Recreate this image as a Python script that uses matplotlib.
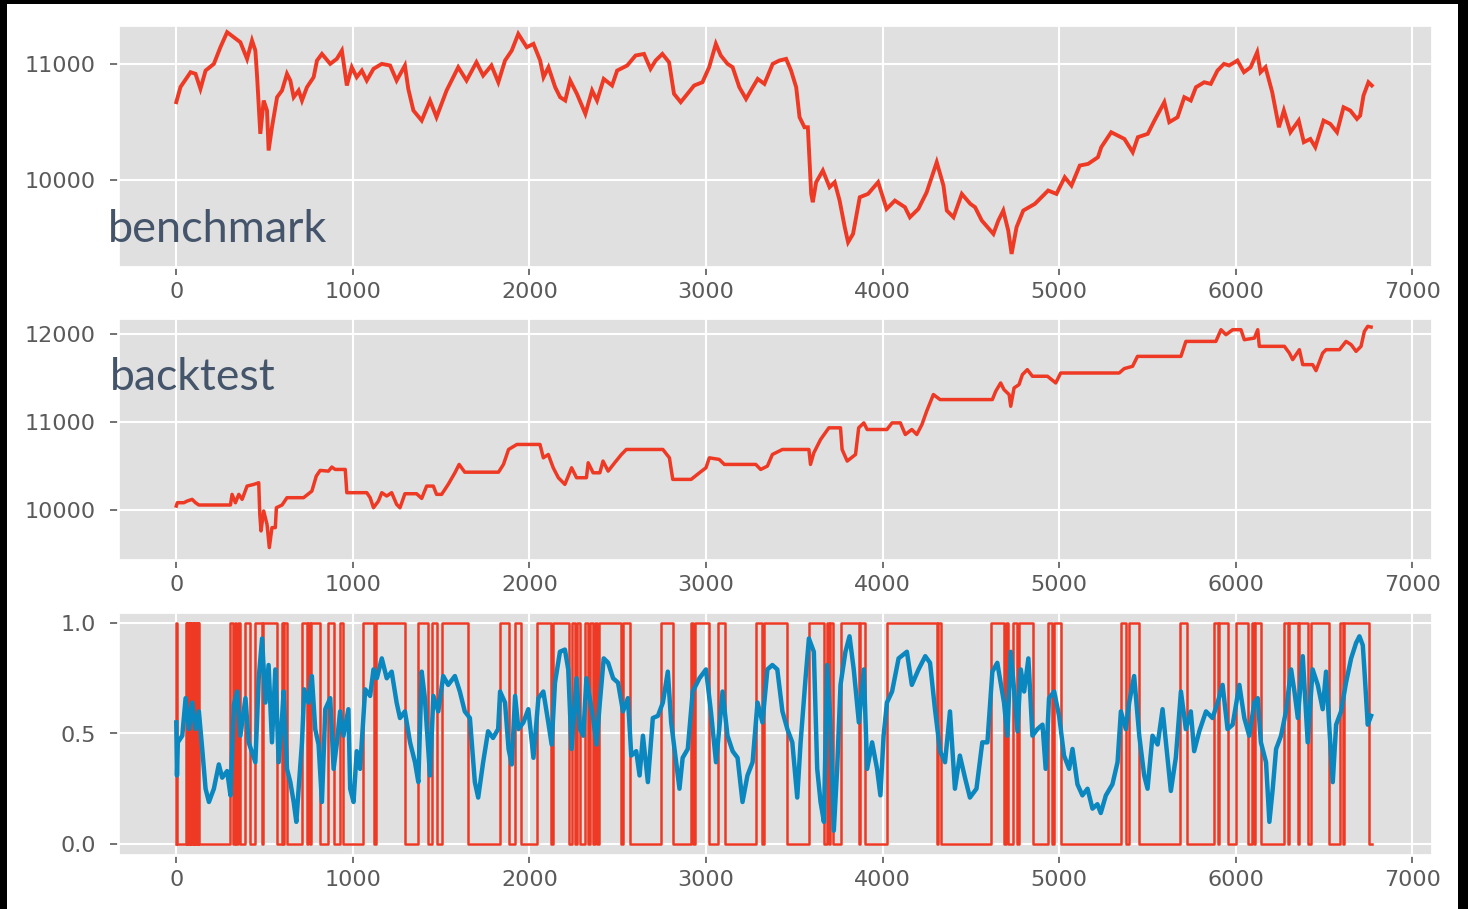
"""
Three stacked panels: benchmark equity, backtest equity, and the
0/1 position signal with the model probability on top of it.
"""

import matplotlib
matplotlib.use("Agg")
import matplotlib.pyplot as plt
from matplotlib.patches import Rectangle

# benchmark equity curve
bench_x = [0, 24, 81, 109, 137, 166, 213, 250, 288, 326, 363, 401, 429, 448, 458, 476, 495, 514, 523, 542,
           571, 599, 627, 646, 665, 693, 712, 740, 778, 797, 825, 872, 909, 938, 966, 994, 1022, 1051, 1079,
           1117, 1164, 1211, 1248, 1295, 1314, 1343, 1390, 1437, 1474, 1531, 1597, 1644, 1700, 1738, 1785,
           1824, 1862, 1900, 1937, 1985, 2023, 2061, 2080, 2108, 2146, 2174, 2203, 2231, 2269, 2317, 2355,
           2383, 2421, 2468, 2497, 2554, 2601, 2649, 2686, 2715, 2753, 2791, 2819, 2857, 2895, 2933, 2980,
           3018, 3056, 3084, 3122, 3151, 3189, 3227, 3265, 3293, 3331, 3378, 3416, 3454, 3482, 3511, 3530,
           3558, 3577, 3596, 3605, 3624, 3662, 3700, 3729, 3757, 3786, 3805, 3833, 3871, 3918, 3975, 4023,
           4070, 4127, 4155, 4203, 4250, 4307, 4345, 4364, 4402, 4449, 4497, 4524, 4562, 4628, 4656, 4684,
           4712, 4731, 4759, 4797, 4863, 4938, 4985, 5032, 5070, 5117, 5164, 5220, 5239, 5295, 5370, 5417,
           5446, 5502, 5540, 5596, 5624, 5671, 5709, 5746, 5775, 5822, 5859, 5897, 5934, 5963, 6010, 6047,
           6085, 6122, 6141, 6169, 6207, 6245, 6273, 6310, 6357, 6386, 6423, 6451, 6498, 6536, 6574, 6611,
           6649, 6687, 6705, 6724, 6752, 6771]
bench_y = [10669, 10800, 10928, 10914, 10784, 10942, 11000, 11144, 11274, 11230, 11187, 11043, 11202, 11115,
           10885, 10395, 10683, 10597, 10251, 10452, 10712, 10770, 10914, 10856, 10712, 10770, 10683, 10798,
           10885, 11029, 11086, 11000, 11043, 11115, 10813, 10971, 10885, 10942, 10856, 10957, 11000, 10986,
           10856, 10986, 10784, 10597, 10510, 10683, 10539, 10770, 10971, 10856, 11014, 10899, 10986, 10841,
           11029, 11115, 11259, 11144, 11173, 11029, 10885, 10971, 10798, 10712, 10683, 10856, 10741, 10568,
           10770, 10683, 10870, 10813, 10942, 10986, 11072, 11086, 10957, 11029, 11086, 11014, 10741, 10669,
           10741, 10813, 10841, 10971, 11173, 11072, 11000, 10971, 10798, 10697, 10798, 10870, 10827, 11000,
           11029, 11043, 10942, 10798, 10539, 10452, 10452, 9876, 9804, 9977, 10078, 9934, 9977, 9818, 9588,
           9458, 9530, 9847, 9876, 9977, 9746, 9818, 9761, 9674, 9746, 9890, 10150, 9948, 9732, 9674, 9876,
           9790, 9761, 9646, 9530, 9646, 9732, 9559, 9357, 9588, 9732, 9790, 9905, 9876, 10020, 9948, 10121,
           10135, 10193, 10280, 10409, 10351, 10236, 10366, 10395, 10510, 10669, 10496, 10539, 10712, 10683,
           10798, 10841, 10827, 10942, 11000, 10986, 11029, 10928, 10971, 11101, 10928, 10971, 10755, 10452,
           10597, 10409, 10510, 10323, 10351, 10280, 10510, 10481, 10409, 10625, 10597, 10524, 10553, 10726,
           10841, 10813]

# backtest equity curve
bt_x = [0, 6, 43, 62, 90, 109, 128, 307, 316, 335, 354, 373, 401, 439, 467, 473, 480, 495, 514, 527, 542,
        561, 567, 599, 627, 721, 768, 793, 815, 862, 881, 900, 957, 966, 1079, 1098, 1117, 1145, 1164, 1192,
        1220, 1248, 1267, 1295, 1361, 1390, 1418, 1456, 1474, 1503, 1540, 1578, 1602, 1634, 1825, 1853, 1882,
        1929, 2060, 2079, 2107, 2135, 2164, 2201, 2239, 2267, 2323, 2333, 2361, 2399, 2417, 2446, 2483, 2521,
        2549, 2756, 2793, 2812, 2916, 2963, 3000, 3019, 3075, 3104, 3282, 3310, 3348, 3376, 3433, 3583, 3592,
        3611, 3649, 3696, 3762, 3771, 3800, 3847, 3865, 3894, 3913, 4025, 4054, 4101, 4129, 4166, 4194, 4223,
        4250, 4288, 4326, 4622, 4641, 4669, 4688, 4717, 4726, 4745, 4773, 4792, 4820, 4849, 4934, 4981, 5009,
        5340, 5369, 5416, 5444, 5690, 5718, 5888, 5917, 5945, 5983, 6030, 6049, 6106, 6125, 6134, 6276, 6304,
        6323, 6361, 6380, 6436, 6455, 6493, 6512, 6588, 6625, 6654, 6682, 6710, 6729, 6748, 6767]
bt_y = [10045, 10083, 10083, 10102, 10121, 10083, 10057, 10057, 10178, 10083, 10178, 10121, 10272, 10291,
        10310, 9951, 9762, 9989, 9837, 9573, 9800, 9800, 10026, 10057, 10140, 10140, 10215, 10386, 10450,
        10442, 10488, 10461, 10461, 10197, 10197, 10140, 10026, 10102, 10197, 10159, 10197, 10064, 10026,
        10185, 10185, 10132, 10272, 10272, 10178, 10178, 10291, 10423, 10518, 10430, 10430, 10518, 10688,
        10745, 10745, 10593, 10631, 10480, 10367, 10291, 10480, 10367, 10367, 10537, 10423, 10423, 10556,
        10442, 10537, 10631, 10688, 10688, 10593, 10348, 10348, 10423, 10480, 10593, 10575, 10518, 10518,
        10461, 10499, 10631, 10688, 10688, 10518, 10650, 10801, 10934, 10934, 10688, 10556, 10631, 10934,
        10990, 10915, 10915, 10990, 10990, 10858, 10915, 10858, 10971, 11123, 11312, 11255, 11255, 11349,
        11444, 11368, 11312, 11179, 11387, 11425, 11538, 11595, 11520, 11520, 11444, 11557, 11557, 11607,
        11633, 11746, 11746, 11916, 11916, 12049, 11992, 12049, 12049, 11935, 11954, 12049, 11860, 11860,
        11784, 11709, 11822, 11652, 11652, 11584, 11784, 11822, 11822, 11916, 11879, 11803, 11860, 12030,
        12087, 12079]

# position signal: (enter, exit) of every run at 1
pos_runs = [(0, 5), (53, 58), (62, 67), (71, 76), (80, 85), (89, 94), (98, 103), (107, 112), (116, 121),
            (124, 128), (307, 322), (330, 341), (349, 360), (392, 420), (448, 484), (490, 571), (599, 606),
            (611, 627), (712, 738), (745, 755), (762, 815), (862, 891), (928, 947), (1060, 1122), (1130, 1296),
            (1371, 1427), (1446, 1478), (1503, 1653), (1831, 1887), (1919, 1951), (2041, 2120), (2132, 2226),
            (2239, 2258), (2267, 2286), (2314, 2333), (2342, 2361), (2370, 2384), (2395, 2521), (2530, 2572),
            (2746, 2812), (2916, 2929), (2940, 3019), (3066, 3107), (3282, 3320), (3329, 3461), (3583, 3668),
            (3686, 3696), (3705, 3718), (3762, 3866), (3874, 3903), (4025, 4307), (4316, 4329), (4613, 4688),
            (4701, 4713), (4739, 4764), (4773, 4853), (4940, 4962), (4972, 5009), (5350, 5378), (5397, 5454),
            (5684, 5722), (5879, 5898), (5903, 5954), (6002, 6068), (6092, 6106), (6111, 6143), (6276, 6295),
            (6304, 6352), (6361, 6408), (6427, 6527), (6591, 6606), (6615, 6753)]
pos_end = 6775

# predicted probability
prob_x = [0, 4, 9, 34, 53, 72, 90, 109, 128, 147, 166, 185, 213, 241, 260, 288, 307, 326, 345, 363, 392, 410,
          448, 467, 486, 505, 523, 542, 561, 580, 599, 608, 627, 646, 665, 680, 693, 712, 725, 749, 768, 787,
          806, 825, 844, 872, 891, 910, 928, 947, 975, 985, 1004, 1022, 1041, 1070, 1098, 1117, 1136, 1164,
          1192, 1220, 1248, 1267, 1295, 1324, 1352, 1371, 1390, 1408, 1437, 1456, 1484, 1512, 1540, 1578,
          1606, 1634, 1663, 1691, 1710, 1738, 1766, 1794, 1823, 1834, 1862, 1882, 1900, 1919, 1938, 1966,
          1994, 2023, 2051, 2079, 2107, 2126, 2145, 2173, 2201, 2220, 2239, 2267, 2286, 2305, 2323, 2361,
          2380, 2399, 2421, 2446, 2474, 2502, 2530, 2558, 2577, 2605, 2624, 2643, 2671, 2699, 2728, 2756,
          2784, 2803, 2831, 2850, 2868, 2897, 2925, 2963, 3000, 3028, 3057, 3075, 3094, 3122, 3151, 3179,
          3207, 3235, 3264, 3292, 3320, 3348, 3376, 3404, 3433, 3461, 3489, 3517, 3536, 3564, 3583, 3611,
          3630, 3649, 3668, 3686, 3705, 3724, 3743, 3762, 3790, 3813, 3837, 3866, 3894, 3913, 3941, 3969,
          3988, 4006, 4025, 4054, 4091, 4138, 4166, 4204, 4242, 4269, 4297, 4326, 4354, 4382, 4410, 4438,
          4467, 4495, 4532, 4565, 4594, 4622, 4650, 4669, 4688, 4707, 4726, 4745, 4764, 4783, 4802, 4826,
          4849, 4877, 4906, 4924, 4943, 4972, 5000, 5028, 5057, 5076, 5104, 5132, 5161, 5189, 5217, 5236,
          5265, 5302, 5331, 5350, 5378, 5397, 5425, 5454, 5482, 5501, 5529, 5558, 5586, 5614, 5633, 5661,
          5690, 5718, 5746, 5765, 5794, 5832, 5869, 5898, 5926, 5954, 5983, 6021, 6049, 6077, 6106, 6125,
          6143, 6172, 6191, 6210, 6229, 6257, 6285, 6314, 6333, 6352, 6380, 6408, 6436, 6465, 6493, 6512,
          6531, 6550, 6569, 6597, 6625, 6654, 6682, 6701, 6720, 6729, 6748, 6767]
prob_y = [0.55, 0.31, 0.46, 0.49, 0.66, 0.52, 0.64, 0.52, 0.60, 0.43, 0.25, 0.19, 0.25, 0.36, 0.30, 0.33,
          0.22, 0.63, 0.69, 0.49, 0.66, 0.46, 0.37, 0.75, 0.93, 0.64, 0.81, 0.46, 0.79, 0.37, 0.57, 0.69,
          0.34, 0.28, 0.19, 0.10, 0.25, 0.46, 0.70, 0.64, 0.76, 0.52, 0.45, 0.19, 0.61, 0.66, 0.34, 0.46,
          0.60, 0.49, 0.61, 0.25, 0.19, 0.42, 0.34, 0.70, 0.67, 0.79, 0.75, 0.84, 0.75, 0.78, 0.64, 0.57,
          0.60, 0.46, 0.37, 0.28, 0.78, 0.66, 0.31, 0.67, 0.60, 0.76, 0.72, 0.76, 0.69, 0.60, 0.57, 0.28,
          0.21, 0.37, 0.51, 0.48, 0.52, 0.69, 0.64, 0.43, 0.36, 0.67, 0.52, 0.55, 0.61, 0.39, 0.66, 0.69,
          0.55, 0.45, 0.73, 0.87, 0.88, 0.79, 0.43, 0.75, 0.52, 0.49, 0.75, 0.57, 0.45, 0.64, 0.84, 0.82,
          0.75, 0.73, 0.60, 0.66, 0.40, 0.42, 0.31, 0.49, 0.28, 0.57, 0.58, 0.64, 0.78, 0.55, 0.37, 0.25,
          0.39, 0.43, 0.69, 0.75, 0.79, 0.60, 0.37, 0.52, 0.69, 0.49, 0.42, 0.39, 0.19, 0.31, 0.37, 0.64,
          0.55, 0.79, 0.81, 0.79, 0.60, 0.52, 0.46, 0.21, 0.46, 0.75, 0.93, 0.87, 0.34, 0.19, 0.10, 0.81,
          0.55, 0.06, 0.34, 0.72, 0.87, 0.94, 0.79, 0.55, 0.79, 0.34, 0.46, 0.34, 0.22, 0.49, 0.64, 0.69,
          0.84, 0.87, 0.72, 0.79, 0.85, 0.82, 0.61, 0.42, 0.37, 0.60, 0.25, 0.40, 0.30, 0.21, 0.25, 0.46,
          0.46, 0.78, 0.82, 0.73, 0.64, 0.49, 0.87, 0.70, 0.51, 0.79, 0.69, 0.84, 0.49, 0.52, 0.54, 0.34,
          0.66, 0.69, 0.58, 0.40, 0.34, 0.43, 0.27, 0.22, 0.25, 0.16, 0.18, 0.14, 0.22, 0.27, 0.37, 0.60,
          0.52, 0.64, 0.76, 0.49, 0.31, 0.25, 0.49, 0.45, 0.61, 0.39, 0.24, 0.39, 0.69, 0.52, 0.60, 0.42,
          0.51, 0.60, 0.57, 0.64, 0.72, 0.52, 0.54, 0.72, 0.57, 0.49, 0.64, 0.66, 0.46, 0.37, 0.10, 0.25,
          0.43, 0.49, 0.60, 0.79, 0.69, 0.57, 0.85, 0.46, 0.79, 0.72, 0.61, 0.78, 0.52, 0.28, 0.54, 0.60,
          0.73, 0.84, 0.91, 0.94, 0.90, 0.79, 0.54, 0.58]

RED = '#EE3A24'
BLUE = '#0A87BF'
GREY = '#5A5A5A'

plt.style.use('ggplot')
W, H = 1468, 909
fig = plt.figure(figsize=(W / 100, H / 100), dpi=100)
fig.patch.set_facecolor('white')

# black frame from the screenshot (left, top, right)
for (x0, y0, w, h) in [(0, 0, 7, H), (0, H - 4, W, 4), (1458, 0, 10, H)]:
    fig.patches.append(Rectangle((x0 / W, y0 / H), w / W, h / H, transform=fig.transFigure,
                                 facecolor='black', edgecolor='none', zorder=10))


def make_ax(top, bottom):
    ax = fig.add_axes([118 / W, 1 - bottom / H, (1432 - 118) / W, (bottom - top) / H])
    ax.set_facecolor('#E0E0E0')
    ax.grid(True, color='white', linewidth=1.5)
    for s in ax.spines.values():
        s.set_color('white')
        s.set_linewidth(2)
    ax.tick_params(axis='both', colors=GREY, labelcolor=GREY, labelsize=16,
                   length=6, width=1.2, direction='out')
    ax.tick_params(axis='y', pad=10)
    ax.tick_params(axis='x', pad=5)
    ax.set_xticks(range(0, 8000, 1000))
    ax.set_xlim(-330, 7112)
    return ax


ax1 = make_ax(25, 267)
ax1.plot(bench_x, bench_y, color=RED, linewidth=2.8, solid_joinstyle='miter')
ax1.set_ylim(9244, 11336)
ax1.set_yticks([10000, 11000])

ax2 = make_ax(318, 560)
ax2.plot(bt_x, bt_y, color=RED, linewidth=2.5)
ax2.set_ylim(9432, 12182)
ax2.set_yticks([10000, 11000, 12000])

# build the 0/1 line from the runs
sig_x, sig_y = [0], [0]
for a, b in pos_runs:
    sig_x += [a, a, b, b]
    sig_y += [0, 1, 1, 0]
sig_x.append(pos_end)
sig_y.append(0)

ax3 = make_ax(612, 855)
ax3.plot(sig_x, sig_y, color=RED, linewidth=1.8)
ax3.plot(prob_x, prob_y, color=BLUE, linewidth=3.2)
ax3.set_ylim(-0.05, 1.05)
ax3.set_yticks([0.0, 0.5, 1.0])
ax3.set_yticklabels(['0.0', '0.5', '1.0'])

fig.text(108 / W, 1 - 242 / H, 'benchmark', fontsize=32.5, color='#44546A',
         family=['Lato', 'DejaVu Sans'], va='baseline', ha='left')
fig.text(110 / W, 1 - 390 / H, 'backtest', fontsize=32, color='#44546A',
         family=['Lato', 'DejaVu Sans'], va='baseline', ha='left')

fig.savefig('out.png', dpi=100)
